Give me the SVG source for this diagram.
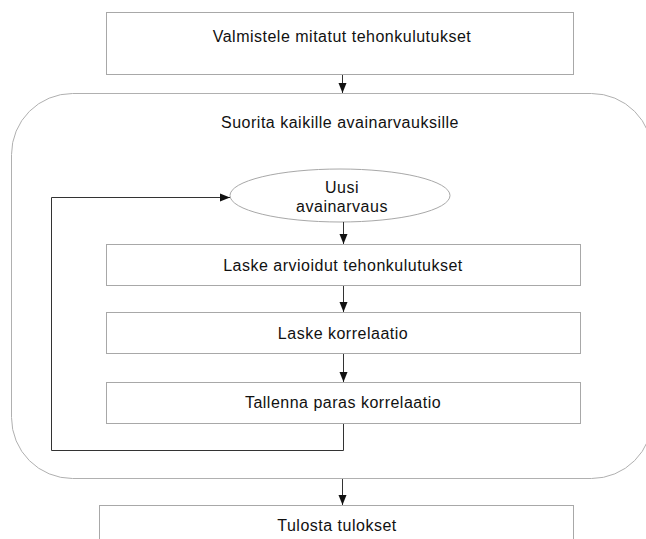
<svg xmlns="http://www.w3.org/2000/svg" width="646" height="539" viewBox="0 0 646 539">
  <style>
    .box { fill: #ffffff; stroke: #a8a8a8; stroke-width: 1; }
    .loop { fill: #ffffff; stroke: #b0b0b0; stroke-width: 1; }
    .lbl { font-family: "Liberation Sans", Arial, sans-serif; font-size: 16px; letter-spacing: 0.5px; fill: #111111; text-anchor: middle; }
    .edge { fill: none; stroke: #333333; stroke-width: 1; }
  </style>
  <defs>
    <marker id="arrow" viewBox="0 0 10 10" refX="10" refY="5" markerWidth="10" markerHeight="10" markerUnits="userSpaceOnUse" orient="auto">
      <path d="M0,1 L10,5 L0,9 Z" fill="#111111"/>
    </marker>
  </defs>
  <rect width="646" height="539" fill="#ffffff"/>

  <g id="prepare">
    <rect class="box" x="106.5" y="12.5" width="467" height="62"/>
    <text class="lbl" x="342" y="42">Valmistele mitatut tehonkulutukset</text>
  </g>

  <g id="loop">
    <rect class="loop" x="11.5" y="93.5" width="641" height="385" rx="61" ry="61"/>
    <text class="lbl" x="340" y="128">Suorita kaikille avainarvauksille</text>
  </g>

  <g id="guess">
    <ellipse class="box" cx="340" cy="195.5" rx="110" ry="26.5"/>
    <text class="lbl" x="342" y="193">Uusi</text>
    <text class="lbl" x="342" y="212">avainarvaus</text>
  </g>

  <g id="estimate">
    <rect class="box" x="106.5" y="244.5" width="474" height="41"/>
    <text class="lbl" x="343" y="271">Laske arvioidut tehonkulutukset</text>
  </g>

  <g id="correlate">
    <rect class="box" x="106.5" y="312.5" width="474" height="41"/>
    <text class="lbl" x="343" y="339">Laske korrelaatio</text>
  </g>

  <g id="store">
    <rect class="box" x="106.5" y="382.5" width="474" height="41"/>
    <text class="lbl" x="343" y="408">Tallenna paras korrelaatio</text>
  </g>

  <g id="print">
    <rect class="box" x="99.5" y="505.5" width="474" height="50"/>
    <text class="lbl" x="337" y="531">Tulosta tulokset</text>
  </g>

  <g id="connectors">
    <path class="edge" d="M342.5,75 V93" marker-end="url(#arrow)"/>
    <path class="edge" d="M343.5,222 V244" marker-end="url(#arrow)"/>
    <path class="edge" d="M343.5,286 V312" marker-end="url(#arrow)"/>
    <path class="edge" d="M343.5,354 V382" marker-end="url(#arrow)"/>
    <path class="edge" d="M343.5,424 V450.5 H51.5 V197.5 H230" marker-end="url(#arrow)"/>
    <path class="edge" d="M342.5,479 V505" marker-end="url(#arrow)"/>
  </g>
</svg>
